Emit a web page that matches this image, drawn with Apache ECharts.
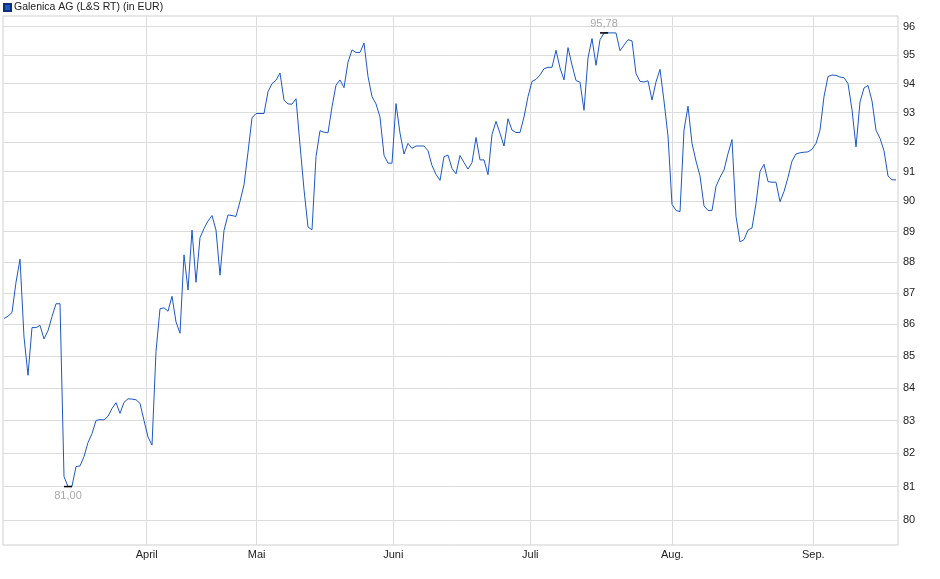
<!DOCTYPE html>
<html>
<head>
<meta charset="utf-8">
<script src="https://cdn.jsdelivr.net/npm/echarts@6/dist/echarts.min.js"></script>
<style>
  html, body { margin: 0; padding: 0; background: #fff; }
  #main { width: 940px; height: 579px; }
</style>
</head>
<body>
<div id="main"></div>
<script>
// closing prices, one entry per step on the time axis
const prices = [
  86.19, 86.26, 86.38, 87.35, 88.1, 85.6, 84.4, 85.9, 85.9, 85.97,
  85.54, 85.8, 86.25, 86.66, 86.66, 81.3, 81.0, 81.01, 81.6, 81.62,
  81.9, 82.33, 82.6, 83.0, 83.03, 83.02, 83.13, 83.37, 83.55, 83.22,
  83.56, 83.67, 83.66, 83.64, 83.53, 83.0, 82.5, 82.25, 85.15, 86.5,
  86.53, 86.42, 86.9, 86.08, 85.72, 88.24, 87.1, 89.05, 87.35, 88.8,
  89.1, 89.35, 89.53, 89.05, 87.58, 89.04, 89.55, 89.53, 89.5, 90.0,
  90.55, 91.65, 92.82, 92.97, 92.97, 92.97, 93.72, 94.0, 94.12, 94.37,
  93.43, 93.3, 93.29, 93.48, 91.9, 90.4, 89.15, 89.06, 91.5, 92.38,
  92.33, 92.31, 93.2, 93.95, 94.13, 93.86, 94.75, 95.18, 95.09, 95.09,
  95.42, 94.25, 93.55, 93.3, 92.85, 91.55, 91.28, 91.28, 93.31, 92.3,
  91.59, 91.95, 91.78, 91.86, 91.86, 91.86, 91.7, 91.2, 90.9, 90.7,
  91.5, 91.55, 91.1, 90.92, 91.54, 91.3, 91.08, 91.3, 92.15, 91.39,
  91.39, 90.89, 92.25, 92.7, 92.29, 91.86, 92.79, 92.4, 92.32, 92.32,
  92.85, 93.55, 94.08, 94.15, 94.3, 94.52, 94.57, 94.57, 95.17, 94.55,
  94.13, 95.26, 94.65, 94.11, 94.05, 93.08, 94.9, 95.58, 94.64, 95.54,
  95.78, 95.78, 95.78, 95.78, 95.15, 95.35, 95.54, 95.5, 94.35, 94.08,
  94.06, 94.1, 93.43, 94.06, 94.5, 93.4, 92.2, 89.9, 89.7, 89.66,
  92.4, 93.22, 91.95, 91.35, 90.85, 89.85, 89.7, 89.7, 90.5, 90.8,
  91.05, 91.6, 92.08, 89.5, 88.66, 88.74, 89.05, 89.12, 89.93, 91.0,
  91.24, 90.66, 90.64, 90.64, 89.99, 90.33, 90.8, 91.35, 91.59, 91.63,
  91.65, 91.66, 91.75, 91.95, 92.4, 93.55, 94.25, 94.3, 94.29, 94.23,
  94.21, 94.0, 93.1, 91.83, 93.37, 93.85, 93.94, 93.4, 92.4, 92.12,
  91.7, 90.85, 90.72, 90.72
];

// month starts (position on the step axis) and their labels
const monthPos = [35.675, 63.175, 97.325, 131.575, 167.075, 202.325];
const monthNames = ['April', 'Mai', 'Juni', 'Juli', 'Aug.', 'Sep.'];

// price ticks on the right axis (log scaled chart)
const yTicks = [80, 81, 82, 83, 84, 85, 86, 87, 88, 89, 90, 91, 92, 93, 94, 95, 96];
const yMin = 79.27;
const yMax = 96.38;

const seriesName = 'Galenica AG (L&S RT) (in EUR)';

const myChart = echarts.init(document.getElementById('main'));

const seriesData = prices.map((p, i) => [i, Math.log(p)]);
const fmt = v => Math.exp(v).toFixed(2).replace('.', ',');

const option = {
  animation: false,
  textStyle: { fontFamily: 'Liberation Sans, Arial, sans-serif' },
  legend: {
    left: 0,
    top: 0,
    padding: [2, 5, 5, 3],
    itemWidth: 7,
    itemHeight: 7,
    itemGap: 4,
    icon: 'rect',
    textStyle: { fontSize: 10.5, color: '#222', padding: [0, 0, 0, -2] },
    data: [seriesName]
  },
  grid: {
    left: 3,
    right: 42,
    top: 16,
    bottom: 34,
    show: true,
    borderColor: '#cfcfcf',
    borderWidth: 1
  },
  xAxis: {
    type: 'value',
    min: -0.25,
    max: 223.5,
    axisLine: { show: false },
    axisTick: { show: false, customValues: monthPos },
    axisLabel: {
      customValues: monthPos,
      fontSize: 11,
      color: '#222',
      margin: 4,
      formatter: v => monthNames[monthPos.indexOf(v)] || ''
    },
    splitLine: { show: true, lineStyle: { color: '#dcdcdc', width: 1 } }
  },
  yAxis: {
    type: 'value',
    position: 'right',
    min: Math.log(yMin),
    max: Math.log(yMax),
    axisLine: { show: false },
    axisTick: { show: false, customValues: yTicks.map(Math.log) },
    axisLabel: {
      customValues: yTicks.map(Math.log),
      fontSize: 11,
      color: '#222',
      margin: 5,
      formatter: v => String(Math.round(Math.exp(v)))
    },
    splitLine: { show: true, lineStyle: { color: '#dcdcdc', width: 1 } }
  },
  series: [
    {
      name: seriesName,
      type: 'line',
      data: seriesData,
      showSymbol: false,
      symbol: 'none',
      lineStyle: { color: '#1b58c4', width: 1 },
      itemStyle: { color: '#1b58c4', borderColor: '#0d2f73', borderWidth: 1 },
      markPoint: {
        symbol: 'rect',
        symbolSize: [8, 1.5],
        itemStyle: { color: '#000' },
        label: {
          show: true,
          fontSize: 11,
          color: '#a8a8a8',
          distance: 3,
          formatter: p => fmt(p.value)
        },
        data: [
          { type: 'max', label: { position: 'top' } },
          { type: 'min', label: { position: 'bottom' } }
        ]
      }
    }
  ]
};

myChart.setOption(option);
</script>
</body>
</html>
